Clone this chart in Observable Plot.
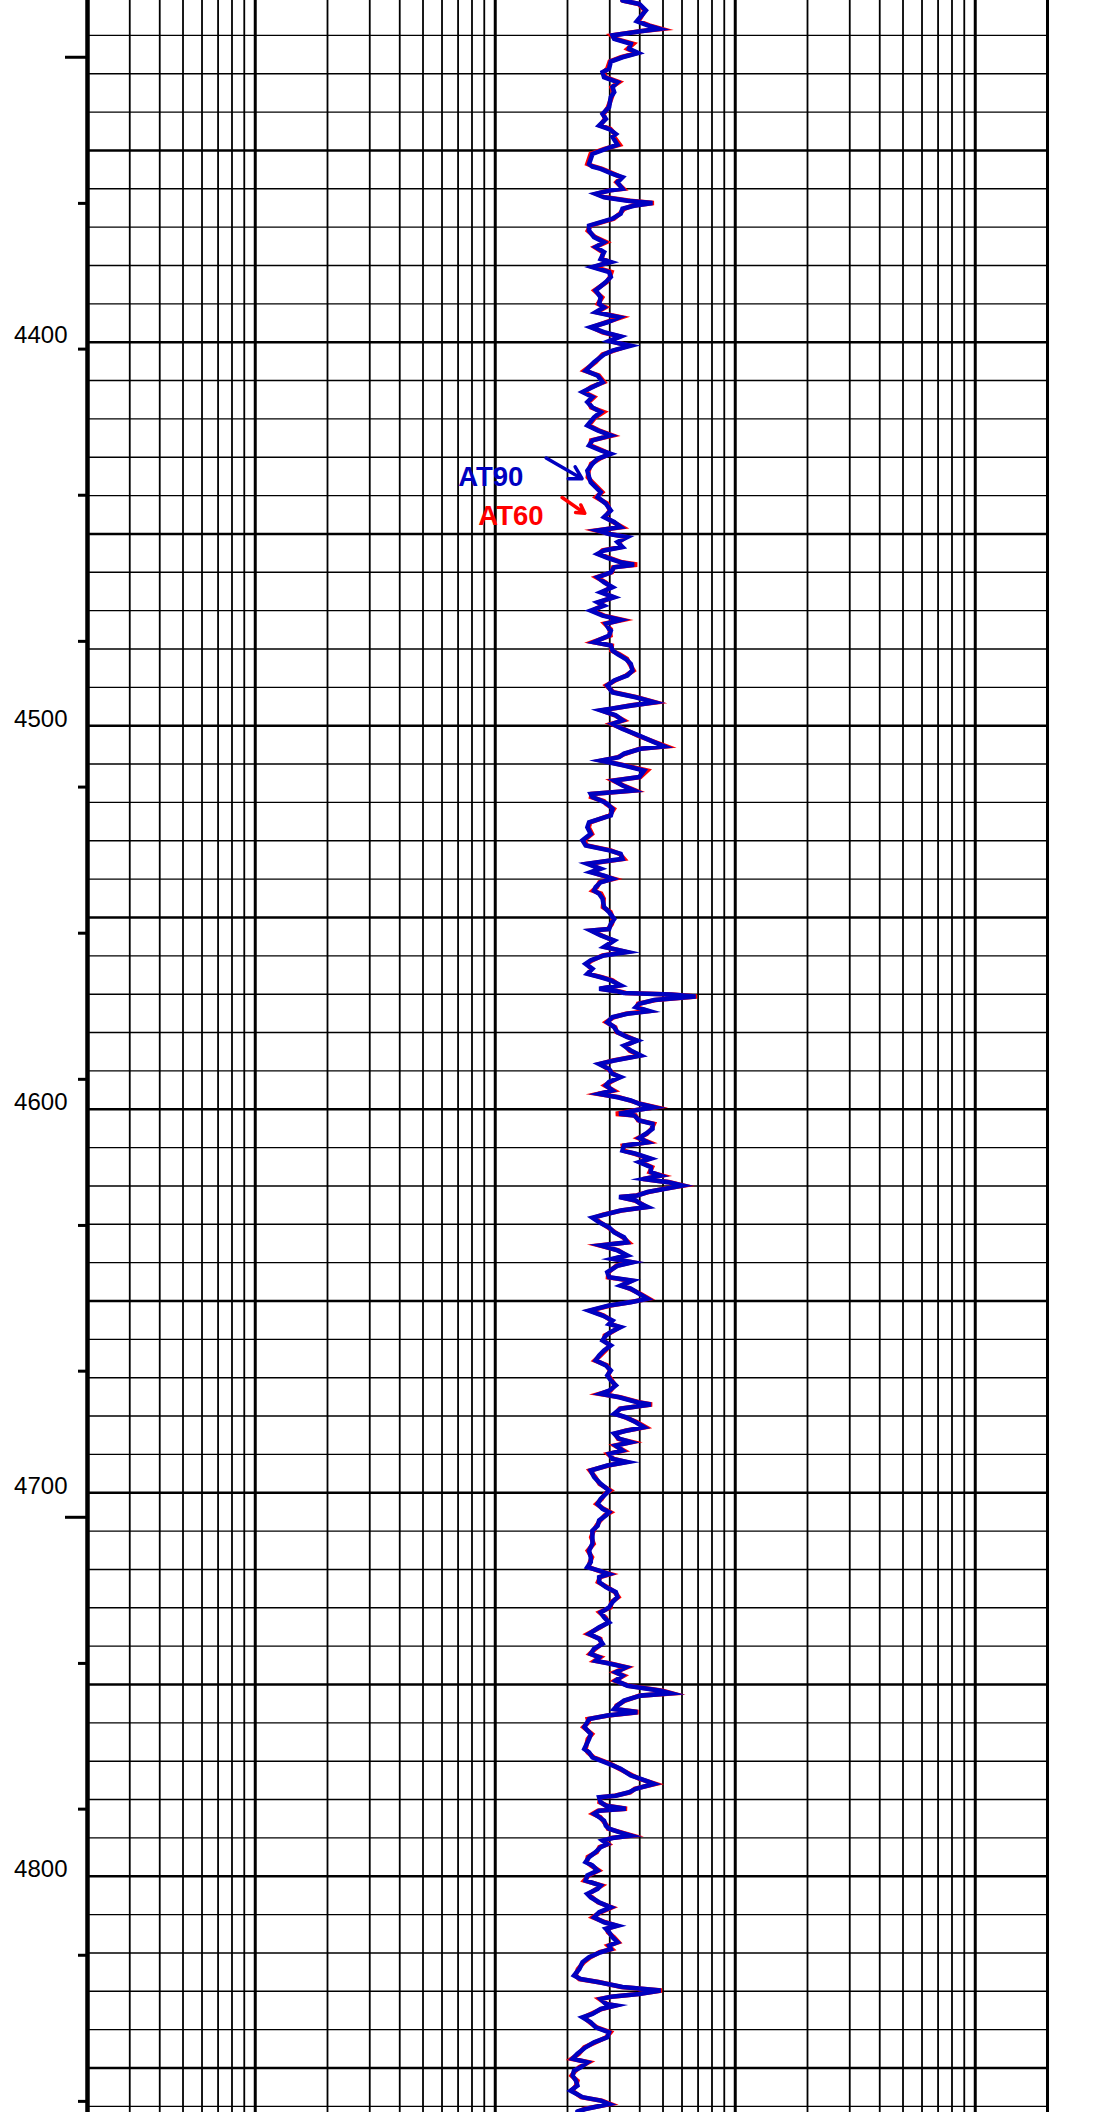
<!DOCTYPE html>
<html>
<head>
<meta charset="utf-8">
<script src="https://cdn.jsdelivr.net/npm/d3@7"></script>
<script src="https://cdn.jsdelivr.net/npm/@observablehq/plot@0.6"></script>
<style>
  html, body { margin: 0; padding: 0; background: #fff; }
  #log svg { display: block; }
</style>
</head>
<body>
<div id="log"></div>
<script>
// Measured depth (ft), shared by both resistivity curves
const depthFt = [
  4310.9,4311.8,4313.5,4316.3,4317.4,4318.3,4318.9,4320.0,4320.9,4322.2,4323.5,4324.6,4325.7,4326.8,4328.7,4329.6,4330.9,4332.2,4333.5,4334.8,4336.1,4338.7,4340.5,4341.8,4343.5,4344.4,4345.7,4346.4,4348.5,4349.6,4350.9,4353.5,4354.2,4354.8,4356.1,4357.0,4358.3,4360.0,4360.4,4361.3,4362.2,4363.1,4363.7,4364.4,4365.2,4366.5,
  4367.8,4369.6,4370.9,4372.6,4373.9,4375.2,4376.5,4378.3,4379.1,4380.4,4381.7,4383.0,4384.3,4386.5,4388.3,4390.0,4390.9,4392.2,4393.5,4394.8,4396.1,4397.4,4398.5,4399.7,4400.9,4402.2,4403.2,4405.2,4407.4,4408.7,4410.4,4411.7,4413.0,4414.3,4415.6,4417.0,4418.2,4419.6,
  4421.7,4423.0,4424.3,4425.6,4426.9,4428.2,4429.1,4430.4,4431.7,4433.5,4435.2,4436.5,4437.8,4439.1,4440.4,4442.1,4443.9,4445.6,4446.9,4448.2,4449.1,4450.0,4450.8,4452.1,4453.4,4454.3,4455.2,4456.2,4457.4,4458.0,4458.7,4460.0,4461.3,4462.6,4463.9,4465.2,4466.5,4467.8,4468.7,4470.0,4471.3,4472.4,4473.4,4474.8,
  4475.2,4476.5,4478.2,4479.1,4480.4,4481.3,4482.6,4483.9,4485.6,4486.9,4488.2,4489.5,4491.3,4492.6,4493.9,4494.7,4495.6,4496.0,4497.3,4498.6,4499.5,4500.8,4502.6,4504.3,4505.4,4506.0,4507.3,4508.2,4509.1,4510.4,4511.7,4513.4,4514.3,4515.6,4516.9,4517.8,4518.6,4519.7,4520.4,4521.7,4523.4,4525.2,4526.5,4528.2,4529.9,
  4531.2,4532.5,4533.4,4534.7,4536.0,4537.3,4538.2,4539.1,4539.9,4540.8,4542.1,4543.0,4543.8,4545.1,4547.3,4548.6,4550.4,4551.7,4553.0,4553.4,4554.7,4556.0,4557.7,4559.0,4559.9,4561.2,4562.1,4563.4,4564.7,4565.6,4566.4,4567.7,4568.6,4569.2,4569.7,4570.1,4570.6,4571.5,4572.5,4573.4,4574.4,4575.1,4576.0,4577.3,4578.6,4579.9,4581.2,4582.1,4583.4,4584.7,
  4586.0,4587.3,4588.2,4589.5,4590.8,4591.6,4592.9,4593.8,4595.1,4596.0,4596.9,4597.7,4598.6,4599.5,4600.2,4601.2,4601.6,4602.9,4603.8,4605.1,4606.4,4607.5,4608.6,4609.5,4610.8,4611.6,4612.9,4613.8,4615.1,4616.4,4617.3,4618.2,4619.0,4619.9,4620.8,4621.6,4622.5,4622.9,4623.8,4624.7,4625.5,4626.4,4627.5,4628.3,4629.5,4630.8,4632.1,4633.4,4634.7,4635.5,4636.8,4638.1,4639.0,4639.9,
  4640.8,4642.5,4643.8,4644.7,4646.0,4646.8,4648.1,4649.4,4650.3,4651.2,4652.5,4653.8,4655.1,4656.0,4656.8,4658.1,4659.0,4660.3,4661.6,4662.9,4664.2,4665.5,4666.8,4668.1,4669.4,4670.7,4672.0,4673.4,4674.2,4675.1,4676.4,4677.0,4678.1,4679.4,4680.3,4681.6,4682.9,4683.8,4684.6,4685.9,4686.8,4687.7,4689.0,4689.9,4691.2,4692.0,4692.9,4694.2,
  4695.9,4697.7,4699.4,4700.3,4701.6,4702.9,4704.2,4705.1,4705.9,4707.2,4708.6,4709.9,4711.6,4713.3,4715.1,4716.8,4718.1,4719.4,4720.3,4721.2,4722.0,4723.3,4724.6,4725.9,4727.2,4728.5,4729.9,4731.2,4732.5,4733.8,4735.1,4736.8,4738.1,4739.4,4740.7,4742.0,4742.9,4743.8,4744.5,4745.5,4746.8,4747.7,4749.0,
  4750.3,4751.6,4752.3,4752.9,4754.2,4755.5,4756.4,4757.2,4758.1,4759.0,4759.8,4761.1,4762.9,4764.2,4766.8,4767.7,4769.0,4770.7,4772.0,4773.7,4774.6,4775.9,4777.2,4778.1,4779.0,4779.4,4780.7,4781.6,4782.4,4782.9,4783.7,4784.6,4785.5,4786.8,4787.6,4788.5,4789.4,4790.0,4790.7,4791.6,4792.4,4793.7,4795.0,4796.3,4797.2,4798.5,4799.8,4801.1,4802.4,4803.3,4804.6,
  4805.5,4806.8,4808.1,4809.4,4810.7,4812.0,4812.9,4813.7,4814.6,4815.9,4817.2,4818.1,4819.0,4819.8,4821.1,4822.4,4824.2,4825.9,4826.8,4827.6,4828.9,4829.8,4830.7,4831.4,4832.0,4833.3,4833.7,4834.6,4835.9,4836.8,4838.1,4839.4,4840.7,4842.0,4843.3,4844.6,4846.3,4847.6,4848.5,4849.8,4850.7,4852.0,4853.3,4854.6,4855.9,4857.6,4858.5,4859.4,4860.7,4861.3
];

// Deep induction resistivity AT90 (ohm.m)
const at90 = [
  33.9,39.8,42.4,38.9,43.1,48.2,40.4,30.8,31.3,36.7,36.1,39.4,33.9,30.3,29.8,28.0,28.4,32.3,30.8,31.3,30.3,29.8,28.0,28.9,27.1,29.8,31.8,30.8,32.3,28.9,25.4,24.6,25.4,27.5,30.8,33.9,32.3,33.9,30.3,26.2,28.4,35.5,45.2,37.9,33.9,33.3,
  30.8,24.6,24.6,25.8,28.4,26.2,28.4,27.5,30.3,25.4,29.8,30.3,28.9,26.2,27.5,27.1,28.4,26.2,32.8,29.3,25.0,28.4,33.3,29.8,36.7,30.8,28.4,25.8,23.8,26.7,28.0,25.4,23.1,25.4,24.2,25.4,27.5,25.8,
  24.2,26.7,30.3,25.4,24.6,27.5,30.3,26.7,25.4,24.2,24.6,25.0,26.2,27.5,26.7,28.9,30.3,28.4,31.3,33.3,26.7,29.8,35.5,32.3,33.9,28.4,26.7,29.3,33.3,37.9,31.3,30.3,26.7,28.4,30.8,27.5,31.3,26.7,28.4,25.0,28.0,33.3,28.9,29.8,
  30.3,29.8,25.8,30.3,30.8,32.3,35.0,36.7,37.3,35.5,31.3,29.3,30.8,38.5,45.9,37.3,30.3,27.5,31.8,33.9,30.8,33.9,39.8,45.9,50.5,40.4,34.4,32.8,27.5,34.4,41.7,39.8,31.3,33.9,37.9,25.0,25.4,28.0,29.3,30.8,30.3,24.6,24.2,25.0,23.1,
  23.8,29.8,33.3,33.9,24.2,27.5,25.0,28.4,30.8,27.5,26.2,25.8,27.1,28.0,28.4,29.8,31.3,30.3,29.8,25.0,27.5,31.3,28.4,35.5,28.4,25.0,23.8,25.4,24.2,27.5,30.3,33.3,27.1,31.8,34.4,53.9,68.4,45.9,39.8,38.5,43.8,35.5,30.8,29.3,31.3,32.3,35.5,39.1,34.4,36.7,
  40.4,31.3,27.1,29.8,30.8,33.3,29.8,28.9,30.8,27.1,32.3,36.7,39.8,45.9,39.1,32.8,37.9,39.8,45.2,45.2,42.4,39.8,43.1,34.4,33.9,38.5,44.5,39.8,44.5,44.5,48.9,41.7,52.2,60.2,50.5,43.1,39.1,32.8,38.5,40.4,43.1,33.3,28.4,25.4,27.1,29.8,31.3,34.4,35.5,27.5,32.3,35.5,30.8,37.3,
  32.3,29.3,29.8,37.3,33.3,36.7,39.8,43.1,36.7,29.8,24.6,28.0,30.8,29.8,33.3,30.3,28.9,28.0,30.3,28.4,27.1,26.2,28.9,30.3,29.3,30.3,31.8,29.8,27.5,32.8,39.1,44.5,33.3,31.3,35.0,38.5,41.7,35.5,31.3,32.8,36.7,31.8,33.9,29.8,30.8,35.5,29.3,25.0,
  25.8,27.5,29.8,28.9,27.5,26.7,28.0,29.8,28.9,27.1,26.7,25.4,25.4,25.4,24.6,25.0,25.0,24.2,27.1,29.8,27.1,27.1,28.9,31.8,32.3,30.8,29.8,27.5,28.4,29.8,27.1,24.6,27.1,28.0,25.8,25.0,27.1,26.2,29.8,35.0,31.8,33.9,31.8,
  35.5,48.9,53.9,40.4,34.4,32.3,31.3,39.1,29.3,24.6,24.2,23.5,25.0,24.6,23.5,24.6,25.4,29.8,33.3,36.7,40.4,45.9,38.5,36.1,31.8,27.1,27.5,28.9,35.0,27.1,25.8,27.1,28.4,28.9,29.8,32.8,36.7,30.8,28.0,29.3,27.5,26.2,24.6,23.8,25.4,26.7,24.2,23.8,27.5,26.7,24.2,
  25.0,27.1,30.3,27.1,25.8,28.4,32.3,28.9,29.8,30.8,32.3,29.8,30.3,27.5,24.6,23.1,22.4,21.3,22.7,26.7,33.9,48.9,39.8,30.3,27.5,28.9,31.8,27.5,25.4,23.1,25.0,26.2,29.8,29.3,25.8,23.8,22.0,21.0,24.2,22.7,21.3,21.0,21.7,22.0,20.6,23.1,27.5,29.8,23.8,22.0
];

// Medium induction resistivity AT60 (ohm.m)
const at60 = [
  33.9,39.5,42.0,39.5,43.8,49.3,40.0,30.5,31.8,37.6,35.6,39.0,33.4,30.0,29.3,28.3,28.8,32.8,30.5,31.0,30.6,29.5,28.3,28.6,27.4,30.2,31.5,31.2,33.0,28.5,25.0,24.2,25.8,27.9,31.2,33.5,32.0,34.2,30.0,26.5,28.9,36.4,45.8,37.2,34.5,33.0,
  31.2,24.9,24.3,26.1,29.0,26.0,28.0,27.9,30.0,25.8,30.5,30.0,29.2,25.9,27.9,26.8,28.8,26.5,33.5,29.0,25.3,28.0,33.0,30.2,36.0,31.2,28.0,26.2,23.5,27.0,28.4,25.1,23.4,25.8,24.5,25.1,28.3,26.1,
  24.5,27.0,30.8,25.1,24.9,27.9,30.0,27.2,25.1,24.5,24.3,25.4,26.6,27.9,26.3,29.3,30.0,28.8,31.0,33.8,26.4,30.2,35.0,32.8,33.5,28.0,27.0,29.7,33.8,39.0,31.0,30.6,26.4,28.8,30.4,27.9,31.0,27.1,28.0,25.4,28.4,34.0,28.6,30.2,
  30.0,30.2,25.5,30.6,30.5,32.8,35.4,36.3,37.7,35.1,31.6,29.0,31.2,38.9,46.5,36.8,30.6,27.8,31.5,34.3,30.5,34.2,39.3,46.3,51.6,40.0,34.8,32.5,27.8,34.8,43.0,40.2,31.0,34.3,38.4,25.3,25.1,28.4,29.0,31.2,30.0,24.9,24.5,25.3,23.4,
  24.1,30.3,33.0,34.4,24.5,27.2,25.3,28.1,31.2,27.2,26.5,25.5,27.6,28.3,28.1,30.2,31.0,30.6,29.5,25.3,27.8,31.0,28.8,35.0,28.0,25.3,24.1,25.1,24.5,27.8,30.8,33.0,27.4,32.3,35.0,54.5,69.2,46.5,39.4,38.9,43.3,35.0,31.2,29.0,31.6,32.0,36.0,38.7,34.8,36.3,
  40.0,31.0,27.4,29.5,31.2,33.0,30.2,28.6,31.2,26.8,32.8,36.3,40.2,46.5,38.7,31.8,38.4,39.4,45.8,44.8,42.8,39.4,43.6,34.0,34.3,38.1,44.0,40.2,45.0,44.0,49.5,41.3,52.8,60.8,50.0,43.5,38.7,33.2,38.1,40.8,42.6,33.6,28.1,25.8,27.4,29.5,31.6,34.0,35.9,27.2,32.6,35.1,31.2,37.0,
  32.0,29.6,29.5,37.0,33.6,36.3,40.2,43.6,36.3,30.2,24.9,28.3,30.5,30.2,33.0,30.6,28.6,28.3,30.0,28.8,27.4,26.0,29.2,30.0,29.6,30.6,31.5,30.2,27.2,33.2,39.7,45.0,33.0,31.6,34.6,38.9,42.3,35.1,31.6,32.5,37.2,31.5,34.3,29.5,31.2,35.1,29.6,24.8,
  26.1,27.2,30.2,28.6,27.8,26.4,28.3,30.2,28.6,27.4,26.4,25.7,25.1,25.7,24.3,25.3,24.8,24.5,26.8,30.2,27.4,26.8,29.2,31.5,32.6,30.5,30.2,27.2,28.8,29.5,27.4,24.3,27.4,27.7,26.1,24.8,27.4,26.0,30.2,35.4,31.5,34.3,31.5,
  35.9,49.8,54.6,40.0,34.8,32.0,31.6,39.5,29.6,24.3,24.5,23.3,25.3,24.3,23.8,24.3,25.7,30.2,33.0,37.2,40.0,46.5,38.1,36.5,31.5,27.4,27.2,29.2,35.4,26.8,25.5,27.4,28.1,29.2,29.5,33.2,37.2,30.5,28.3,29.6,27.2,26.5,24.3,24.1,25.1,27.0,24.5,23.5,27.8,26.4,24.5,
  25.3,26.8,30.6,27.4,25.5,28.8,32.0,29.2,29.5,31.2,32.6,29.5,30.6,27.2,24.9,23.4,22.1,21.6,22.4,27.0,33.5,49.5,39.4,30.6,27.2,29.2,31.5,27.8,25.1,23.4,24.8,26.5,30.2,29.0,26.1,23.5,22.3,20.8,24.5,22.4,21.6,20.8,22.0,21.7,20.9,22.8,27.8,30.2,23.5,22.3
];

// Log-scale resistivity grid (ohm.m)
const resMinorGrid = [0.3,0.4,0.5,0.6,0.7,0.8,0.9, 2,3,4,5,6,7,8,9, 20,30,40,50,60,70,80,90, 200,300,400,500,600,700,800,900];
const resDecadeGrid = [1, 10, 100, 1000];
const resTrackLeft = [0.2];
const resTrackRight = [2000];

// Depth grid, labels and ticks (ft)
const depthMajorGrid = [4350,4400,4450,4500,4550,4600,4650,4700,4750,4800,4850];
const depthMinorGrid = d3.range(4320, 4861, 10).filter(d => d % 50 !== 0);
const depthLabels = [4400, 4500, 4600, 4700, 4800];
const depthTicksMinor = [4363.8,4401.8,4439.9,4478.0,4516.0,4554.1,4592.2,4630.3,4668.3,4744.5,4782.5,4820.6,4858.7];
const depthTicksMajor = [4325.7, 4706.4];

// Curve name labels with leader arrows pointing at each curve
const curveNames = ["AT90", "AT60"];
const curveColors = ["#0000c0", "#ff0000"];
const nameRes = [13.1, 15.9];
const nameDepth = [4437.6, 4447.7];
const leaderFromRes = [16.3, 19.0];
const leaderFromDepth = [4430.2, 4440.5];
const leaderToRes = [23.0, 23.6];
const leaderToDepth = [4435.6, 4444.6];

const rows = (vals) => depthFt.map((d, i) => ({depth: d, res: vals[i]}))
  .filter(r => r.res != null && !Number.isNaN(r.res));
const names = curveNames.map((n, i) => ({
  name: n, color: curveColors[i], res: nameRes[i], depth: nameDepth[i],
  x1: leaderFromRes[i], y1: leaderFromDepth[i], x2: leaderToRes[i], y2: leaderToDepth[i]
}));

const chart = Plot.plot({
  width: 1095,
  height: 2112,
  marginLeft: 87,
  marginRight: 48,
  marginTop: 0,
  marginBottom: 0,
  style: {fontFamily: "'Liberation Sans', Arial, sans-serif", background: "#fff", overflow: "hidden"},
  x: {type: "log", domain: [0.2, 2000], axis: null},
  y: {domain: [4310.9, 4861.6], reverse: true, axis: null},
  marks: [
    Plot.ruleY(depthMinorGrid, {stroke: "#000", strokeWidth: 1.4}),
    Plot.ruleY(depthMajorGrid, {stroke: "#000", strokeWidth: 2.6}),
    Plot.ruleX(resMinorGrid, {stroke: "#000", strokeWidth: 1.8}),
    Plot.ruleX(resDecadeGrid, {stroke: "#000", strokeWidth: 3}),
    Plot.ruleX(resTrackLeft, {stroke: "#000", strokeWidth: 4.5}),
    Plot.ruleX(resTrackRight, {stroke: "#000", strokeWidth: 3}),
    Plot.line(rows(at60), {x: "res", y: "depth", stroke: curveColors[1], strokeWidth: 4.6, strokeLinejoin: "miter", strokeMiterlimit: 6}),
    Plot.line(rows(at90), {x: "res", y: "depth", stroke: curveColors[0], strokeWidth: 4.6, strokeLinejoin: "miter", strokeMiterlimit: 6}),
    Plot.axisY(depthTicksMinor, {anchor: "left", label: null, tickSize: 9, tickPadding: 0, tickFormat: () => "", strokeWidth: 3, stroke: "#000"}),
    Plot.axisY(depthTicksMajor, {anchor: "left", label: null, tickSize: 22, tickPadding: 0, tickFormat: () => "", strokeWidth: 3, stroke: "#000"}),
    Plot.text(depthLabels, {y: d => d, frameAnchor: "left", dx: -20, dy: 1, textAnchor: "end", lineAnchor: "bottom", fontSize: 24, fill: "#000", text: d => String(d)}),
    Plot.arrow(names, {x1: "x1", y1: "y1", x2: "x2", y2: "y2", stroke: "color", strokeWidth: 3.5, headLength: 12}),
    Plot.text(names, {x: "res", y: "depth", text: "name", fill: "color", textAnchor: "end", lineAnchor: "bottom", fontSize: 27.5, fontWeight: "bold"})
  ]
});
document.getElementById("log").append(chart);
</script>
</body>
</html>
